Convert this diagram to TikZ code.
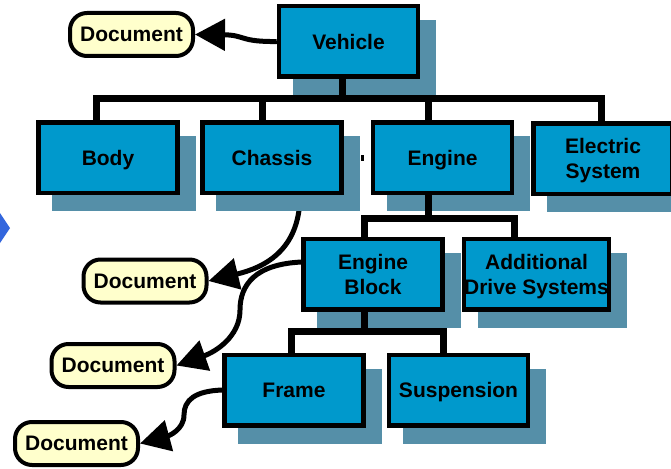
\documentclass[tikz,border=0pt]{standalone}
\usepackage{fontspec}
\setmainfont{Liberation Sans}
\usetikzlibrary{arrows.meta}
\definecolor{boxblue}{RGB}{0,153,204}
\definecolor{shadowc}{RGB}{85,143,168}
\definecolor{docyellow}{RGB}{255,255,204}
\definecolor{bluearr}{RGB}{51,102,221}
\pgfdeclarelayer{bg}
\pgfdeclarelayer{shadowlayer}
\pgfsetlayers{bg,shadowlayer,main}
\tikzset{
  box/.style={draw=black, line width=4.5pt, fill=boxblue, minimum width=139pt, minimum height=70.5pt,
    inner sep=0pt, align=center, text depth=0pt, font=\bfseries\fontsize{21}{25}\selectfont},
  doc/.style={draw=black, line width=4pt, fill=docyellow, minimum width=123pt, minimum height=43pt,
    inner sep=0pt, rounded corners=17pt, text depth=0pt, font=\bfseries\fontsize{21}{25}\selectfont},
  tree/.style={draw=black, line width=7pt, line join=miter},
  docarrow/.style={draw=black, line width=5pt, -{Triangle[length=30pt,width=31pt]}},
  shadowbox/.style={fill=shadowc}
}
\begin{document}
\begin{tikzpicture}[x=1pt,y=-1pt]
\useasboundingbox (0,0) rectangle (671,468);
\begin{pgfonlayer}{bg}
\fill[white] (0,0) rectangle (671,468);
\end{pgfonlayer}
% boxes
\node[box] (vehicle) at (348.5,41.5) {Vehicle};
\node[box] (body) at (108,157.5) {Body};
\node[box] (chassis) at (272,157.5) {Chassis};
\node[box] (engine) at (442.5,157.5) {Engine};
\node[box] (electric) at (603,158.5) {Electric\\System};
\node[box] (eblock) at (373,274) {Engine\\Block};
\node[box] (addl) at (536.5,274) {Additional\\Drive Systems};
\node[box] (frame) at (294,390) {Frame};
\node[box] (susp) at (458.5,390) {Suspension};
% documents
\node[doc] (doc1) at (131.5,34.5) {Document};
\node[doc] (doc2) at (145,281) {Document};
\node[doc] (doc3) at (113,365.5) {Document};
\node[doc] (doc4) at (76.5,443.5) {Document};
% shadows
\begin{pgfonlayer}{shadowlayer}
\foreach \n in {vehicle,body,chassis,engine,electric,eblock,addl,frame,susp}{
  \fill[shadowbox] ([shift={(16,16)}]\n.north west) rectangle ([shift={(16,16)}]\n.south east);
}
\end{pgfonlayer}
% tree connectors
\coordinate (busC) at (342,99);
\coordinate (busL) at (96.5,99);
\coordinate (busR) at (601,99);
\coordinate (busCh) at (262,99);
\coordinate (busEn) at (428,99);
\draw[tree] (busC |- vehicle.south) -- (busC);
\draw[tree] (busL |- body.north) -- (busL) -- (busR) -- (busR |- electric.north);
\draw[tree] (busCh) -- (busCh |- chassis.north);
\draw[tree] (busEn) -- (busEn |- engine.north);
\coordinate (e1) at (428,218);
\coordinate (e1L) at (364,218);
\coordinate (e1R) at (514,218);
\draw[tree] (e1 |- engine.south) -- (e1);
\draw[tree] (e1L |- eblock.north) -- (e1L) -- (e1R) -- (e1R |- addl.north);
\coordinate (b1) at (364,331.5);
\coordinate (b1L) at (291,331.5);
\coordinate (b1R) at (443,331.5);
\draw[tree] (b1 |- eblock.south) -- (b1);
\draw[tree] (b1L |- frame.north) -- (b1L) -- (b1R) -- (b1R |- susp.north);
% document arrows
\coordinate (c1) at (300,195);
\coordinate (c2) at (302,262);
\coordinate (c2m) at (240,310);
\coordinate (c3m) at (184,415);
\begin{pgfonlayer}{bg}
\draw[docarrow] (vehicle.west) .. controls (240,42) and (245,35) .. (doc1.east);
\draw[docarrow] (c1) .. controls (300,252) and (262,268) .. (doc2.east);
\draw[docarrow] (c2) .. controls (255,264) and (240,285) .. (c2m) .. controls (240,337) and (215,352) .. (doc3.east);
\draw[docarrow] (frame.west) .. controls (195,391) and (184,400) .. (c3m) .. controls (184,430) and (168,436) .. (doc4.east);
\end{pgfonlayer}
% small mark and left chevron
\fill[black] (361,155) rectangle (363.5,161);
\fill[bluearr] (0,213) -- (10,228) -- (0,243) -- cycle;
\end{tikzpicture}
\end{document}
